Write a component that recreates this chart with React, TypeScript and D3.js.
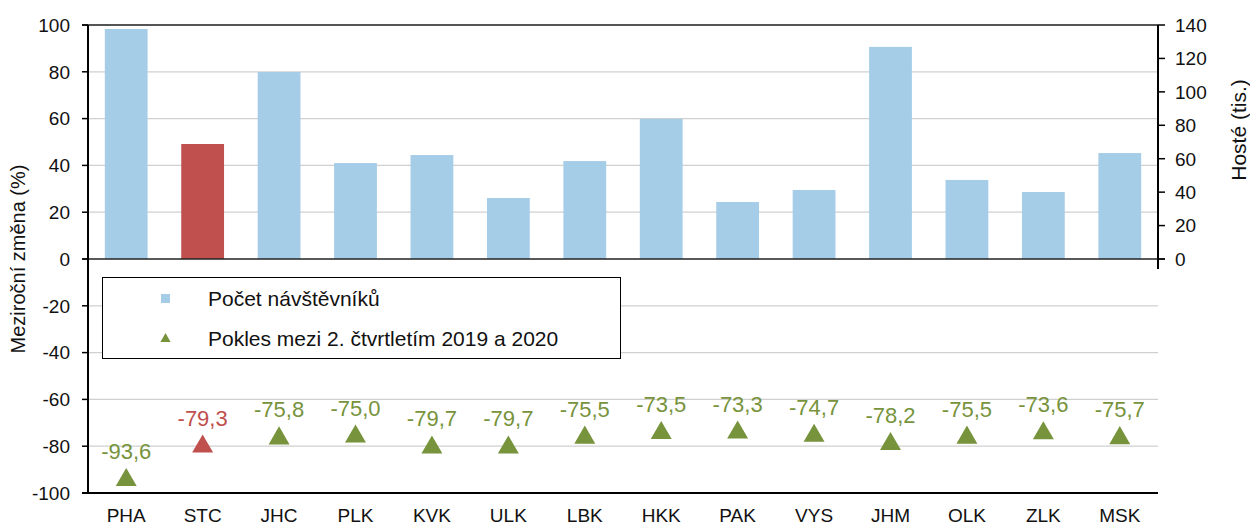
// Regional visitors chart: bars (guests, thousands) + triangles (year-on-year change)
import { useRef, useEffect } from "react";
import * as d3 from "d3";

// Regions on the x axis
const regions = ["PHA", "STC", "JHC", "PLK", "KVK", "ULK", "LBK", "HKK", "PAK", "VYS", "JHM", "OLK", "ZLK", "MSK"];
// Guests in thousands (right axis)
const guests = [137.6, 68.8, 111.9, 57.4, 62.2, 36.5, 58.6, 83.8, 34.1, 41.3, 126.9, 47.3, 40.1, 63.4];
// Year-on-year change in % (left axis)
const change = [-93.6, -79.3, -75.8, -75.0, -79.7, -79.7, -75.5, -73.5, -73.3, -74.7, -78.2, -75.5, -73.6, -75.7];
// Highlighted region
const highlight = "STC";
// Tick values
const leftTicks = [100, 80, 60, 40, 20, 0, -20, -40, -60, -80, -100];
const rightTicks = [0, 20, 40, 60, 80, 100, 120, 140];
// Legend entries
const legendLabels = ["Počet návštěvníků", "Pokles mezi 2. čtvrtletím 2019 a 2020"];

export default function App() {
  const ref = useRef<SVGSVGElement>(null);

  useEffect(() => {
    const svg = d3.select(ref.current);
    svg.selectAll("*").remove();

    const font = "'Liberation Sans', Arial, sans-serif";
    const blue = "#a6cde8";
    const red = "#c0504d";
    const green = "#77933c";

    const left = 88;
    const right = 1158;
    const top = 25;
    const bottom = 493;

    const x = d3.scaleBand().domain(regions).range([left, right]).paddingInner(0.44).paddingOuter(0.22);
    const yL = d3.scaleLinear().domain([-100, 100]).range([bottom, top]);
    const yR = d3.scaleLinear().domain([0, 140]).range([yL(0), top]);

    const g = svg.append("g").style("font-family", font);

    // Gridlines
    g.selectAll(".grid")
      .data(leftTicks.filter((t) => t !== 100 && t !== 0 && t !== -100))
      .join("line")
      .attr("x1", left)
      .attr("x2", right)
      .attr("y1", (d) => yL(d))
      .attr("y2", (d) => yL(d))
      .attr("stroke", "#d0d0d0")
      .attr("stroke-width", 1.2);

    // Bars
    g.selectAll(".bar")
      .data(regions)
      .join("rect")
      .attr("x", (d) => x(d)!)
      .attr("width", x.bandwidth())
      .attr("y", (d, i) => yR(guests[i]))
      .attr("height", (d, i) => yR(0) - yR(guests[i]))
      .attr("fill", (d) => (d === highlight ? red : blue));

    // Top border, zero line and bottom axis
    g.append("line").attr("x1", left - 6).attr("x2", right).attr("y1", top).attr("y2", top)
      .attr("stroke", "#555").attr("stroke-width", 2);
    g.append("line").attr("x1", left - 6).attr("x2", right + 7).attr("y1", yL(0)).attr("y2", yL(0))
      .attr("stroke", "#222").attr("stroke-width", 1.5);
    g.append("line").attr("x1", left - 6).attr("x2", right).attr("y1", bottom).attr("y2", bottom)
      .attr("stroke", "#000").attr("stroke-width", 2.2);

    // Left axis
    g.append("line").attr("x1", left).attr("x2", left).attr("y1", top).attr("y2", bottom)
      .attr("stroke", "#000").attr("stroke-width", 2);
    leftTicks.forEach((t) => {
      g.append("line").attr("x1", left - 6).attr("x2", left).attr("y1", yL(t)).attr("y2", yL(t))
        .attr("stroke", "#000").attr("stroke-width", 1.5);
      g.append("text")
        .attr("x", 70)
        .attr("y", yL(t))
        .attr("dy", "0.36em")
        .attr("text-anchor", "end")
        .style("font-size", "19px")
        .attr("fill", "#111")
        .text(t);
    });

    // Right axis
    g.append("line").attr("x1", right).attr("x2", right).attr("y1", top).attr("y2", yL(0) + 10)
      .attr("stroke", "#000").attr("stroke-width", 2);
    rightTicks.forEach((t) => {
      g.append("line").attr("x1", right).attr("x2", right + 7).attr("y1", yR(t)).attr("y2", yR(t))
        .attr("stroke", "#000").attr("stroke-width", 1.5);
      g.append("text")
        .attr("x", 1175)
        .attr("y", yR(t))
        .attr("dy", "0.36em")
        .style("font-size", "19px")
        .attr("fill", "#111")
        .text(t);
    });

    // Axis titles
    g.append("text")
      .attr("transform", `translate(25,${yL(0)}) rotate(-90)`)
      .attr("text-anchor", "middle")
      .style("font-size", "20px")
      .attr("fill", "#111")
      .text("Meziroční změna (%)");
    g.append("text")
      .attr("transform", `translate(1246,130) rotate(-90)`)
      .attr("text-anchor", "middle")
      .style("font-size", "21px")
      .attr("fill", "#111")
      .text("Hosté (tis.)");

    // Category labels
    g.selectAll(".cat")
      .data(regions)
      .join("text")
      .attr("x", (d) => x(d)! + x.bandwidth() / 2)
      .attr("y", 522)
      .attr("text-anchor", "middle")
      .style("font-size", "19px")
      .attr("fill", "#111")
      .text((d) => d);

    // Triangle markers
    const tri = d3.symbol().type(d3.symbolTriangle).size(190);
    g.selectAll(".tri")
      .data(regions)
      .join("path")
      .attr("d", tri)
      .attr("transform", (d, i) => `translate(${x(d)! + x.bandwidth() / 2},${yL(change[i]) + 2})`)
      .attr("fill", (d) => (d === highlight ? red : green));

    // Data labels
    g.selectAll(".lbl")
      .data(regions)
      .join("text")
      .attr("x", (d) => x(d)! + x.bandwidth() / 2)
      .attr("y", (d, i) => yL(change[i]) - 19)
      .attr("text-anchor", "middle")
      .style("font-size", "22px")
      .attr("fill", (d) => (d === highlight ? red : green))
      .text((d, i) => change[i].toFixed(1).replace(".", ","));

    // Legend
    const lg = g.append("g");
    lg.append("rect").attr("x", 102.5).attr("y", 277.5).attr("width", 518).attr("height", 81)
      .attr("fill", "#fff").attr("stroke", "#000").attr("stroke-width", 1);
    lg.append("rect").attr("x", 161).attr("y", 294).attr("width", 9).attr("height", 9).attr("fill", blue);
    lg.append("path")
      .attr("d", d3.symbol().type(d3.symbolTriangle).size(45))
      .attr("transform", "translate(165.5,339)")
      .attr("fill", green);
    legendLabels.forEach((l, i) => {
      lg.append("text")
        .attr("x", 208)
        .attr("y", 298 + i * 40)
        .attr("dy", "0.36em")
        .style("font-size", "21px")
        .attr("fill", "#111")
        .text(l);
    });
  }, []);

  return (
    <svg
      ref={ref}
      width={1250}
      height={525}
      style={{ position: "absolute", left: 0, top: 0, background: "#fff" }}
    ></svg>
  );
}
